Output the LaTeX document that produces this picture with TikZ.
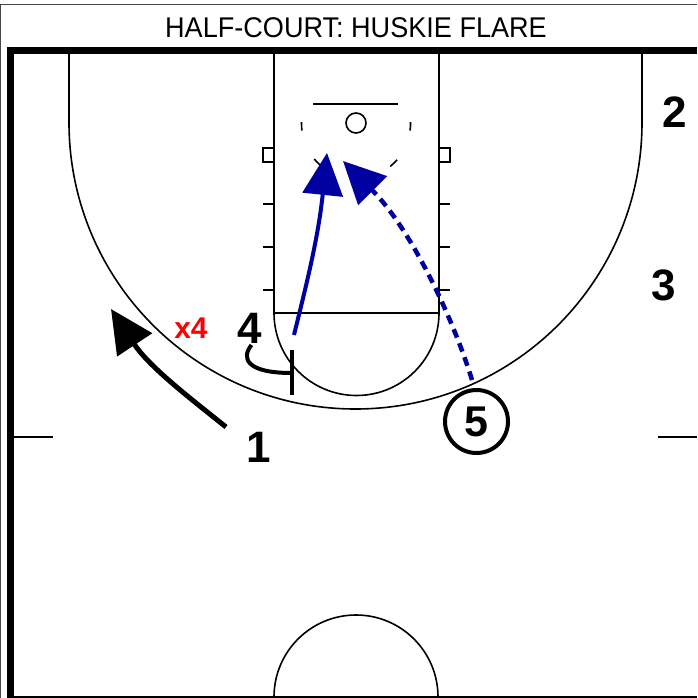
\documentclass[tikz,border=0pt]{standalone}
\usepackage{fontspec}
\usepackage{graphicx}
\setmainfont{Liberation Sans}
\usetikzlibrary{arrows.meta}
\definecolor{playblue}{RGB}{0,0,160}
\definecolor{framegray}{RGB}{70,70,70}
\begin{document}
\begin{tikzpicture}[x=1pt,y=-1pt,
  court/.style={line width=1.6pt},
  player/.style={font=\fontsize{44}{44}\selectfont\bfseries, inner sep=0pt, anchor=base},
  cutline/.style={line width=5pt, -{Triangle[length=43pt,width=41pt]}},
  bluecut/.style={playblue, line width=4pt, -{Triangle[length=42pt,width=40pt]}},
  screenline/.style={line width=4pt}]
\useasboundingbox (0,0) rectangle (697,698);
% title
\node[font=\fontsize{28.5}{30}\selectfont, inner sep=0pt] (title) at (356,28) {\scalebox{0.95}[1]{HALF-COURT: HUSKIE FLARE}};
% frame
\draw[framegray, line width=1pt] (0.5,698) -- (0.5,5) -- (697,5);
% three point line
\draw[court] (69,50) -- (69,122.5) arc[start angle=180, end angle=0, radius=286.5] -- (642,50);
% lane
\draw[court] (274,50) -- (274,313) -- (439,313) -- (439,50);
\draw[court] (274,313) arc[start angle=180, end angle=0, radius=82.5];
\draw[court] (263,148) rectangle (274,162);
\draw[court] (439,148) rectangle (450,162);
\foreach \yy in {204,247,290} {
  \draw[court] (263,\yy) -- (274,\yy);
  \draw[court] (439,\yy) -- (450,\yy);
}
% backboard and rim
\draw[line width=2pt] (313,104.5) -- (398,104.5);
\draw[court] (356,123) circle[radius=10];
\foreach \aa/\bb in {-2/7, 41/51, 130/140, 173/182} {
  \draw[court] (356,124) ++(\aa:54.5) arc[start angle=\aa, end angle=\bb, radius=54.5];
}
% midcourt
\draw[court] (14,437) -- (53,437);
\draw[court] (658,437) -- (697,437);
\draw[court] (274,697) arc[start angle=180, end angle=360, radius=82];
\draw[court] (14,697) -- (697,697);
% thick border
\draw[line width=6.5pt] (10.5,698) -- (10.5,50.5) -- (697,50.5);
% players
\node[player] (p2) at (675,128) {2};
\node[player] (p3) at (664,300) {3};
\node[player] (p1) at (258.5,462) {1};
\node[player] (p4) at (250,343) {4};
\node[player, red, font=\fontsize{30}{30}\selectfont\bfseries] (x4) at (191,338) {x4};
\node[circle, draw, line width=4pt, minimum size=63pt, inner sep=0pt, font=\fontsize{43}{43}\selectfont\bfseries] (p5) at (476.5,421.5) {5};
% coordinates for connector ends
\coordinate (a1s) at (226,427);
\coordinate (a1e) at (111,309);
\coordinate (s4s) at (251.5,345);
\coordinate (s4e) at (291.7,373);
\coordinate (s4t) at (291.7,350);
\coordinate (s4b) at (291.7,395);
\coordinate (b4s) at (294,335);
\coordinate (b4e) at (327,153);
\coordinate (b5s) at (472,380);
\coordinate (b5e) at (343,161);
% player 1 cut
\draw[cutline] (a1s) .. controls (195,402) and (150,368) .. (a1e);
% screen by 4
\draw[screenline] (s4s) .. controls (241,358) and (246,373) .. (s4e);
\draw[screenline] (s4t) -- (s4b);
% 4 cut
\draw[bluecut] (b4s) .. controls (305,290) and (318,240) .. (b4e);
% 5 cut
\draw[bluecut, line width=4.5pt, dash pattern=on 9pt off 6pt] (b5s) .. controls (452,315) and (410,228) .. (b5e);
\end{tikzpicture}
\end{document}
